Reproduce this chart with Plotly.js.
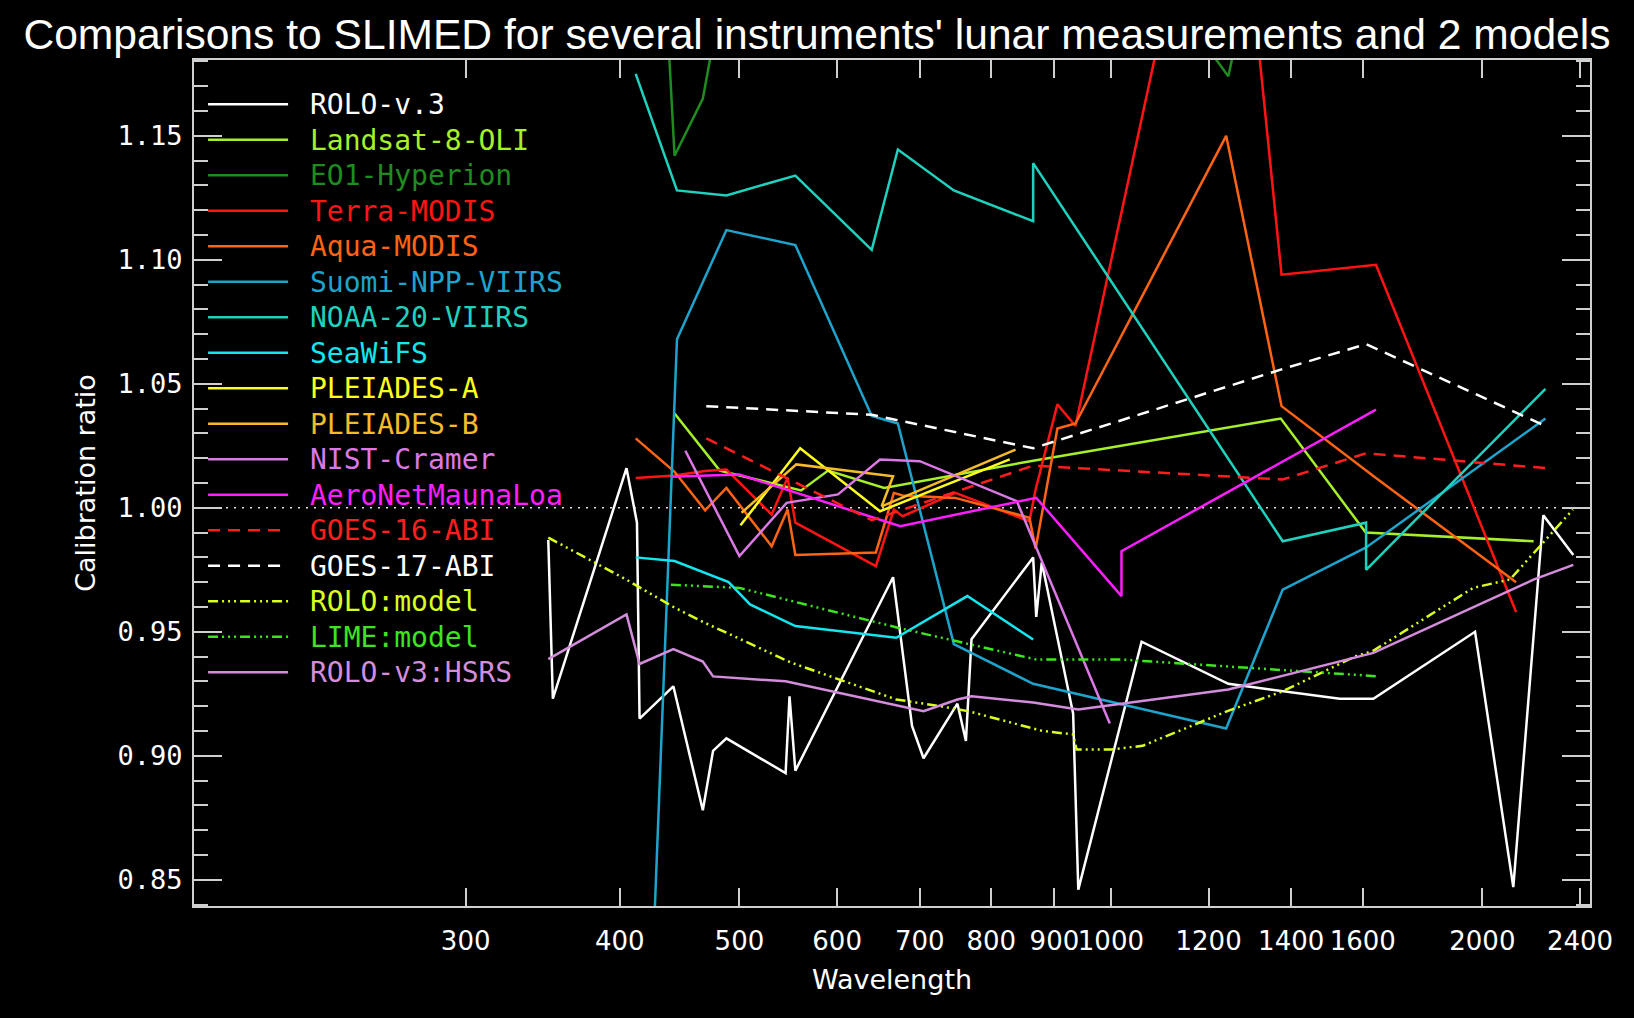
<!DOCTYPE html>
<html>
<head>
<meta charset="utf-8">
<script src="https://cdn.plot.ly/plotly-3.0.1.min.js"></script>
<style>html,body{margin:0;padding:0;background:#000;}</style>
</head>
<body>
<div id="chart" style="width:1634px;height:1018px;"></div>
<script>
// ---- data ----
const roloWl   = [350, 353, 405, 413, 415, 442, 467, 476, 488, 545, 549, 555, 666, 690, 705, 751, 763, 771, 865, 870, 879, 932, 941, 1059, 1245, 1533, 1632, 1973, 2119, 2241, 2370];
const roloV3   = [0.987, 0.923, 1.016, 0.994, 0.915, 0.928, 0.878, 0.902, 0.907, 0.893, 0.924, 0.894, 0.972, 0.912, 0.899, 0.921, 0.906, 0.947, 0.980, 0.956, 0.978, 0.917, 0.846, 0.946, 0.929, 0.923, 0.923, 0.950, 0.847, 0.997, 0.981];

const oliWl    = [443, 482, 561, 590, 655, 865, 1373, 1609, 2201];
const oliV     = [1.038, 1.015, 1.007, 1.015, 1.008, 1.019, 1.036, 0.990, 0.9865];

const hypWl    = [426, 443, 467, 477, 600, 900, 1200, 1245, 1265, 1700, 2300];
const hypV     = [1.30, 1.142, 1.165, 1.19, 1.25, 1.25, 1.185, 1.174, 1.19, 1.25, 1.25];

const modisWl  = [412, 443, 469, 488, 531, 547, 555, 645, 667, 678, 748, 859, 869, 905, 936, 1240, 1375, 1640, 2130];
const terraV   = [1.012, 1.013, 1.0148, 1.0154, 0.9973, 1.0121, 0.994, 0.9765, 0.9993, 0.9966, 1.006, 0.9946, 1.0074, 1.0417, 1.033, 1.315, 1.094, 1.098, 0.958];
const aquaV    = [1.028, 1.0145, 0.999, 1.008, 0.9845, 0.9993, 0.981, 0.982, 1.006, 1.005, 1.004, 0.996, 0.9836, 1.032, 1.034, 1.150, 1.041, 1.012, 0.970];

const snppWl   = [412, 445, 488, 555, 640, 672, 746, 865, 1240, 1378, 1610, 2250];
const snppV    = [0.64, 1.068, 1.112, 1.106, 1.037, 1.034, 0.945, 0.929, 0.911, 0.967, 0.984, 1.036];

const n20Wl    = [412, 445, 488, 555, 640, 672, 746, 865, 865, 1240, 1378, 1610, 1610, 2250];
const n20V     = [1.175, 1.128, 1.126, 1.134, 1.104, 1.1445, 1.128, 1.1156, 1.139, 1.021, 0.9865, 0.994, 0.975, 1.048];

const swfWl    = [412, 443, 490, 510, 555, 670, 765, 865];
const swfV     = [0.980, 0.9785, 0.970, 0.961, 0.9523, 0.9476, 0.9644, 0.9469];

const plaWl    = [501, 560, 650, 828];
const plaV     = [0.993, 1.024, 0.9986, 1.0195];
const plbWl    = [502, 556, 666, 652, 837];
const plbV     = [0.998, 1.0175, 1.0127, 1.0006, 1.0235];

const nistWl   = [452, 500, 546, 601, 650, 700, 839, 998];
const nistV    = [1.023, 0.9805, 1.002, 1.0054, 1.0195, 1.0188, 1.0027, 0.913];

const aeroWl   = [440, 500, 675, 870, 1020, 1020, 1640];
const aeroV    = [1.0125, 1.0134, 0.9926, 1.004, 0.9644, 0.9825, 1.0396];

const abiWl    = [470, 640, 865, 1378, 1610, 2250];
const g16V     = [1.028, 0.995, 1.017, 1.0114, 1.022, 1.016];
const g17V     = [1.041, 1.0375, 1.024, 1.056, 1.066, 1.033];

const rmodWl   = [350, 405, 442, 467, 551, 600, 670, 727, 766, 880, 932, 938, 1000, 1061, 1243, 1378, 1580, 1630, 1966, 2106, 2240, 2368];
const rmodV    = [0.988, 0.971, 0.960, 0.954, 0.9375, 0.931, 0.9227, 0.920, 0.918, 0.910, 0.9086, 0.9025, 0.9025, 0.904, 0.918, 0.926, 0.9402, 0.9422, 0.9677, 0.9711, 0.9859, 0.9993];

const limeWl   = [440, 500, 675, 870, 1020, 1640];
const limeV    = [0.969, 0.9677, 0.9514, 0.9388, 0.9388, 0.9321];

const hsrsWl   = [350, 405, 415, 442, 467, 476, 545, 705, 751, 771, 865, 941, 1245, 1632, 2200, 2370];
const hsrsV    = [0.939, 0.957, 0.937, 0.943, 0.938, 0.932, 0.930, 0.918, 0.9227, 0.924, 0.9215, 0.9187, 0.9267, 0.9415, 0.971, 0.977];

const xTickVals = [300, 400, 500, 600, 700, 800, 900, 1000, 1200, 1400, 1600, 2000, 2400];
const xTickText = ['300', '400', '500', '600', '700', '800', '900', '1000', '1200', '1400', '1600', '2000', '2400'];

const titleText = "Comparisons to SLIMED for several instruments' lunar measurements and 2 models";

// ---- series definitions ----
const DDD = '10px,4px,2px,4px,2px,4px,2px,4px';
const series = [
  {name: 'ROLO-v.3',         x: roloWl,  y: roloV3, color: '#ffffff', dash: 'solid'},
  {name: 'Landsat-8-OLI',    x: oliWl,   y: oliV,   color: '#a6f02a', dash: 'solid'},
  {name: 'EO1-Hyperion',     x: hypWl,   y: hypV,   color: '#1e8c1e', dash: 'solid'},
  {name: 'Terra-MODIS',      x: modisWl, y: terraV, color: '#ff1414', dash: 'solid'},
  {name: 'Aqua-MODIS',       x: modisWl, y: aquaV,  color: '#ff6414', dash: 'solid'},
  {name: 'Suomi-NPP-VIIRS',  x: snppWl,  y: snppV,  color: '#1ea4cc', dash: 'solid'},
  {name: 'NOAA-20-VIIRS',    x: n20Wl,   y: n20V,   color: '#1ed2be', dash: 'solid'},
  {name: 'SeaWiFS',          x: swfWl,   y: swfV,   color: '#14e6f0', dash: 'solid'},
  {name: 'PLEIADES-A',       x: plaWl,   y: plaV,   color: '#ffff1e', dash: 'solid'},
  {name: 'PLEIADES-B',       x: plbWl,   y: plbV,   color: '#f5bc28', dash: 'solid'},
  {name: 'NIST-Cramer',      x: nistWl,  y: nistV,  color: '#dc78e6', dash: 'solid'},
  {name: 'AeroNetMaunaLoa',  x: aeroWl,  y: aeroV,  color: '#ff1eff', dash: 'solid'},
  {name: 'GOES-16-ABI',      x: abiWl,   y: g16V,   color: '#ff1e1e', dash: '12px,8px'},
  {name: 'GOES-17-ABI',      x: abiWl,   y: g17V,   color: '#ffffff', dash: '12px,8px'},
  {name: 'ROLO:model',       x: rmodWl,  y: rmodV,  color: '#d8ff1e', dash: DDD},
  {name: 'LIME:model',       x: limeWl,  y: limeV,  color: '#3ce61e', dash: DDD},
  {name: 'ROLO-v3:HSRS',     x: hsrsWl,  y: hsrsV,  color: '#d48cdc', dash: 'solid'}
];

const traces = series.map(s => ({
  type: 'scatter',
  mode: 'lines',
  x: s.x,
  y: s.y,
  name: '<span style="color:' + s.color + ';font-size:28px">&nbsp;' + s.name + '</span>',
  line: {color: s.color, width: 2.5, dash: s.dash},
  hoverinfo: 'x+y'
}));

const axisCol = '#cfcfcf';
const layout = {
  width: 1634,
  height: 1018,
  paper_bgcolor: '#000000',
  plot_bgcolor: '#000000',
  margin: {l: 194, r: 44, t: 60, b: 112},
  title: {
    text: titleText,
    font: {family: 'Liberation Sans, Arial, sans-serif', size: 42.6, color: '#ffffff'},
    x: 0.5, xref: 'container', xanchor: 'center',
    y: 0.967, yref: 'container', yanchor: 'middle'
  },
  showlegend: true,
  legend: {
    x: 0.0065, y: 0.9745, xanchor: 'left', yanchor: 'top',
    bgcolor: 'rgba(0,0,0,0)', borderwidth: 0,
    font: {family: 'DejaVu Sans Mono, monospace', size: 25, color: '#ffffff'},
    itemwidth: 80,
    traceorder: 'normal'
  },
  xaxis: {
    type: 'log',
    range: [Math.log10(180.7), Math.log10(2445)],
    tickmode: 'array', tickvals: xTickVals, ticktext: xTickText,
    tickangle: 0, ticklabeloverflow: 'allow',
    ticks: 'inside', ticklen: 18, tickwidth: 1.5, tickcolor: axisCol,
    showline: true, linecolor: axisCol, linewidth: 2, mirror: 'allticks',
    showgrid: false, zeroline: false,
    tickfont: {family: 'DejaVu Sans, sans-serif', size: 26, color: '#ffffff'},
    ticklabelstandoff: 11,
    title: {text: 'Wavelength', font: {family: 'DejaVu Sans, sans-serif', size: 27, color: '#ffffff'}, standoff: 15},
    automargin: false
  },
  yaxis: {
    range: [0.8394, 1.1806],
    tickmode: 'linear', tick0: 0.85, dtick: 0.05, tickformat: '.2f',
    ticks: 'inside', ticklen: 28, tickwidth: 1.5, tickcolor: axisCol,
    minor: {tickmode: 'linear', tick0: 0.85, dtick: 0.01, ticks: 'inside', ticklen: 14, tickwidth: 1.5, tickcolor: axisCol, showgrid: false},
    showline: true, linecolor: axisCol, linewidth: 2, mirror: 'allticks',
    showgrid: false, zeroline: false,
    tickfont: {family: 'DejaVu Sans Mono, monospace', size: 27, color: '#ffffff'},
    ticklabelstandoff: 4,
    title: {text: 'Calibration ratio', font: {family: 'DejaVu Sans, sans-serif', size: 27, color: '#ffffff'}, standoff: 14},
    automargin: false
  },
  shapes: [{
    type: 'line', xref: 'paper', x0: 0, x1: 1, yref: 'y', y0: 1, y1: 1,
    line: {color: '#e0e0e0', width: 1.5, dash: '2px,6px'},
    layer: 'below'
  }]
};

Plotly.newPlot('chart', traces, layout, {displayModeBar: false, responsive: false});
</script>
</body>
</html>
